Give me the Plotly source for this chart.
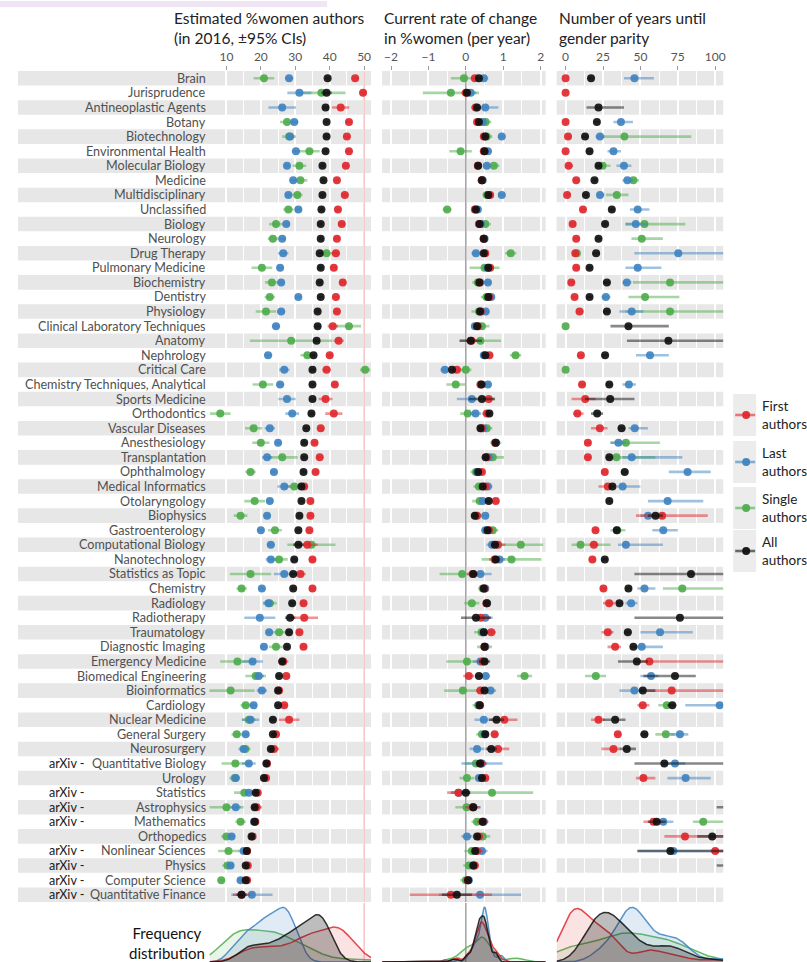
import numpy as np
import plotly.graph_objects as go

W, H = 807, 962
N = None

categories = [
    "Brain", "Jurisprudence", "Antineoplastic Agents", "Botany", "Biotechnology",
    "Environmental Health", "Molecular Biology", "Medicine", "Multidisciplinary", "Unclassified",
    "Biology", "Neurology", "Drug Therapy", "Pulmonary Medicine", "Biochemistry",
    "Dentistry", "Physiology", "Clinical Laboratory Techniques", "Anatomy", "Nephrology",
    "Critical Care", "Chemistry Techniques, Analytical", "Sports Medicine", "Orthodontics", "Vascular Diseases",
    "Anesthesiology", "Transplantation", "Ophthalmology", "Medical Informatics", "Otolaryngology",
    "Biophysics", "Gastroenterology", "Computational Biology", "Nanotechnology", "Statistics as Topic",
    "Chemistry", "Radiology", "Radiotherapy", "Traumatology", "Diagnostic Imaging",
    "Emergency Medicine", "Biomedical Engineering", "Bioinformatics", "Cardiology", "Nuclear Medicine",
    "General Surgery", "Neurosurgery", "Quantitative Biology", "Urology", "Statistics",
    "Astrophysics", "Mathematics", "Orthopedics", "Nonlinear Sciences", "Physics",
    "Computer Science", "Quantitative Finance",
]
arxiv_fields = ["Quantitative Biology", "Statistics", "Astrophysics", "Mathematics",
                "Nonlinear Sciences", "Physics", "Computer Science", "Quantitative Finance"]

# ---- Estimated % women authors (2016), with 95% CI half-widths ----
pct_first = [47.4, 49.7, 43.2, 45.6, 45.0, 45.6, 44.7, 42.1, 44.4, 42.4,
             43.5, 42.1, 41.8, 41.2, 43.8, 41.8, 42.1, 40.9, 42.6, 40.0,
             39.1, 41.5, 38.8, 41.2, 37.4, 35.6, 37.1, 35.9, 32.6, 34.4,
             34.4, 34.1, 33.5, 35.0, 31.5, 35.0, 32.4, 32.6, 31.2, 32.4,
             26.5, 27.4, 25.3, 26.8, 28.2, 24.4, 23.8, 21.8, 21.5, 19.1,
             18.8, 18.4, 17.6, 16.0, 16.2, 16.0, 14.4]
pct_first_err = [1.0, 1.0, 2.5, 1.0, 1.0, 1.0, 1.0, 0.8, 1.0, 0.8,
                 1.0, 0.8, 1.2, 1.0, 1.0, 1.0, 1.0, 1.5, 1.5, 1.0,
                 1.2, 1.0, 2.0, 2.5, 1.0, 0.8, 1.0, 0.8, 0.8, 0.8,
                 0.8, 0.8, 3.0, 1.0, 1.5, 1.0, 1.0, 4.0, 1.0, 1.0,
                 1.5, 1.0, 1.0, 1.0, 3.0, 1.0, 1.5, 1.0, 1.0, 1.0,
                 1.5, 1.0, 1.0, 1.0, 1.0, 1.0, 2.5]
pct_last = [28.2, 31.2, 26.2, 29.7, 28.5, 30.2, 27.6, 29.4, 28.0, 30.9,
            27.4, 26.2, 26.5, 25.6, 25.9, 30.9, 25.9, 24.4, N, 22.1,
            26.8, 25.6, 27.6, 29.1, 22.6, 25.0, 21.8, 23.8, 26.8, 22.6,
            21.8, 20.0, 22.9, 22.9, 26.8, 20.3, 22.2, 19.7, 22.4, 20.9,
            17.6, 19.4, 20.3, 17.9, 17.0, 15.6, 15.0, 16.5, 12.7, 16.5,
            12.7, 18.0, 11.5, 15.0, 11.2, 14.1, 17.4]
pct_last_err = [1.2, 3.5, 4.0, 1.2, 1.2, 1.2, 1.0, 1.0, 1.0, 1.0,
                1.0, 1.0, 1.5, 1.0, 1.0, 1.0, 1.2, 1.2, 0.0, 1.2,
                1.5, 1.2, 2.5, 2.0, 1.5, 1.0, 1.5, 1.0, 2.0, 1.0,
                1.0, 1.0, 1.2, 1.5, 3.0, 1.0, 1.5, 4.5, 1.0, 1.0,
                3.0, 1.5, 1.5, 1.0, 2.5, 1.0, 1.5, 2.0, 1.0, 1.0,
                1.5, 1.0, 1.0, 1.5, 1.0, 1.0, 6.0]
pct_single = [20.9, 37.6, N, 27.6, 28.2, 34.1, 31.2, 31.5, 30.6, 28.0,
              24.4, 23.5, 39.1, 20.3, 23.2, 22.6, 21.5, 45.6, 28.8, 33.5,
              50.3, 20.6, N, 8.2, 17.9, 20.0, 26.2, 17.0, 29.7, 18.2,
              14.1, 24.1, 34.7, 25.3, 17.0, 14.4, 22.6, N, 25.3, 24.4,
              13.2, 18.5, 11.2, 15.6, 16.5, 13.0, 15.5, 12.6, 12.4, 15.2,
              10.0, 14.1, 10.0, 10.6, 10.3, 8.5, N]
pct_single_err = [3.0, 7.0, 0.0, 2.0, 2.0, 3.0, 2.0, 2.0, 1.5, 1.5,
                  2.0, 1.5, 2.0, 3.0, 2.0, 1.5, 3.0, 3.5, 12.0, 2.0,
                  1.5, 3.0, 0.0, 3.0, 2.5, 2.5, 4.5, 1.5, 2.5, 3.0,
                  2.0, 2.0, 7.0, 2.5, 6.0, 1.5, 2.0, 0.0, 2.0, 2.0,
                  5.0, 3.0, 7.0, 1.5, 2.0, 1.5, 1.5, 4.0, 1.5, 3.0,
                  5.0, 1.5, 1.5, 3.0, 1.5, 1.0, 0.0]
pct_all = [39.4, 39.1, 38.8, 39.1, 39.1, 38.8, 37.9, 38.2, 37.9, 37.6,
           37.4, 37.4, 37.1, 37.4, 37.1, 37.4, 36.5, 36.5, 36.2, 35.3,
           35.0, 35.0, 35.0, 34.7, 33.2, 32.6, 32.6, 32.4, 31.8, 31.8,
           31.2, 30.9, 30.9, 29.7, 29.4, 29.4, 29.1, 28.5, 28.2, 27.6,
           26.2, 25.3, 25.0, 25.0, 23.5, 23.5, 22.9, 21.6, 20.9, 18.5,
           18.2, 18.2, 17.3, 15.9, 15.6, 15.6, 14.4]
pct_all_err = [0.6, 1.5, 1.0, 0.6, 0.6, 0.6, 0.6, 0.5, 0.6, 0.6,
               0.6, 0.5, 0.6, 0.6, 0.6, 0.6, 0.6, 0.8, 1.0, 0.6,
               0.8, 0.6, 1.0, 0.8, 0.6, 0.6, 0.6, 0.6, 0.6, 0.6,
               0.6, 0.6, 1.5, 0.8, 1.0, 0.6, 0.6, 1.5, 0.6, 0.6,
               0.8, 0.8, 0.8, 0.6, 1.0, 0.6, 0.8, 0.8, 0.6, 0.6,
               0.8, 0.6, 0.6, 0.8, 0.6, 0.6, 1.5]

# ---- Current rate of change in % women (per year) ----
rate_first = [0.24, 0.00, 0.26, 0.30, 0.48, 0.48, 0.32, 0.43, 0.65, 0.24,
              0.35, 0.48, 0.52, 0.65, 0.38, 0.62, 0.40, 0.33, 0.15, 0.63,
              -0.24, 0.39, 0.61, 0.56, 0.42, 0.78, 0.56, 0.43, 0.52, 0.80,
              0.30, 0.62, 0.86, 0.77, 0.18, 0.50, 0.55, 0.40, 0.68, 0.50,
              0.45, 0.08, 0.39, 0.38, 1.03, 0.77, 0.86, 0.40, 0.52, -0.20,
              0.18, 0.45, 0.35, 0.30, 0.24, 0.05, -0.40]
rate_first_err = [0.08, 0.12, 0.12, 0.08, 0.08, 0.08, 0.08, 0.06, 0.08, 0.08,
                  0.08, 0.06, 0.08, 0.10, 0.06, 0.10, 0.08, 0.10, 0.15, 0.10,
                  0.12, 0.10, 0.15, 0.12, 0.08, 0.08, 0.10, 0.06, 0.10, 0.10,
                  0.08, 0.08, 0.20, 0.15, 0.15, 0.06, 0.10, 0.25, 0.12, 0.10,
                  0.15, 0.15, 0.12, 0.08, 0.35, 0.10, 0.30, 0.15, 0.10, 0.30,
                  0.20, 0.15, 0.10, 0.15, 0.10, 0.10, 1.10]
rate_last = [0.48, 0.13, 0.52, 0.45, 0.96, 0.59, 0.56, 0.45, 0.96, 0.32,
             0.40, 0.50, 0.27, 0.58, 0.59, 0.68, 0.53, 0.24, N, 0.48,
             -0.56, 0.59, 0.16, 0.26, 0.47, 0.80, 0.62, 0.30, 0.59, 0.45,
             0.52, 0.52, 0.70, 0.90, 0.39, 0.52, 0.57, 0.52, 0.48, 0.52,
             0.39, 0.53, 0.66, 0.35, 0.48, 0.50, 0.30, 0.43, 0.35, -0.19,
             0.20, 0.48, 0.03, 0.43, 0.20, 0.08, 0.38]
rate_last_err = [0.12, 0.15, 0.35, 0.10, 0.10, 0.10, 0.10, 0.08, 0.10, 0.10,
                 0.10, 0.08, 0.12, 0.10, 0.10, 0.10, 0.10, 0.10, 0.00, 0.10,
                 0.12, 0.10, 0.40, 0.15, 0.10, 0.10, 0.10, 0.10, 0.12, 0.10,
                 0.10, 0.10, 0.15, 0.15, 0.30, 0.10, 0.10, 0.20, 0.12, 0.10,
                 0.20, 0.12, 0.15, 0.10, 0.25, 0.10, 0.20, 0.55, 0.10, 0.20,
                 0.20, 0.12, 0.15, 0.15, 0.10, 0.10, 1.10]
rate_single = [-0.05, -0.40, N, 0.53, 0.56, -0.14, 0.75, 0.43, 0.56, -0.50,
               0.52, 0.48, 1.20, 0.50, 0.32, 0.55, 0.35, 0.43, 0.39, 1.33,
               0.00, -0.27, N, 0.05, 0.56, 0.80, 0.72, 0.27, 0.35, 0.37,
               0.28, 0.72, 1.47, 1.22, -0.10, 0.45, 0.16, N, 0.42, 0.50,
               0.03, 1.57, -0.08, 0.33, N, 0.43, N, 0.27, 0.03, 0.70,
               0.02, 0.30, 0.45, 0.16, 0.08, 0.00, N]
rate_single_err = [0.35, 0.75, 0.00, 0.15, 0.15, 0.30, 0.15, 0.12, 0.12, 0.12,
                   0.15, 0.12, 0.15, 0.40, 0.15, 0.15, 0.20, 0.20, 0.55, 0.15,
                   0.15, 0.25, 0.00, 0.20, 0.15, 0.15, 0.30, 0.15, 0.15, 0.20,
                   0.15, 0.15, 0.60, 0.80, 0.60, 0.12, 0.20, 0.00, 0.20, 0.20,
                   0.55, 0.20, 0.50, 0.15, 0.00, 0.15, 0.00, 0.30, 0.20, 1.10,
                   0.30, 0.15, 0.20, 0.20, 0.15, 0.15, 0.00]
rate_all = [0.35, 0.03, 0.30, 0.35, 0.52, 0.50, 0.33, 0.43, 0.60, 0.27,
            0.37, 0.48, 0.48, 0.60, 0.36, 0.60, 0.38, 0.30, 0.13, 0.52,
            -0.37, 0.42, 0.43, 0.63, 0.39, 0.80, 0.53, 0.33, 0.45, 0.61,
            0.24, 0.58, 0.78, 0.80, 0.20, 0.48, 0.56, 0.27, 0.48, 0.50,
            0.50, 0.35, 0.50, 0.37, 0.82, 0.52, 0.68, 0.38, 0.43, 0.00,
            0.20, 0.45, 0.30, 0.25, 0.20, 0.06, -0.24]
rate_all_err = [0.05, 0.06, 0.06, 0.05, 0.05, 0.05, 0.05, 0.04, 0.05, 0.05,
                0.05, 0.04, 0.05, 0.05, 0.05, 0.05, 0.05, 0.06, 0.30, 0.06,
                0.06, 0.05, 0.35, 0.06, 0.05, 0.05, 0.05, 0.05, 0.05, 0.05,
                0.05, 0.05, 0.10, 0.08, 0.10, 0.05, 0.05, 0.40, 0.06, 0.05,
                0.15, 0.10, 0.08, 0.05, 0.20, 0.05, 0.15, 0.10, 0.06, 0.12,
                0.10, 0.06, 0.06, 0.08, 0.05, 0.05, 0.40]

# ---- Years until gender parity (value, lower and upper CI bounds) ----
years_first = [0, 0, N, 0, 1.6, 0, 2, 7.1, 1, 11.6,
               4.7, 7.1, 6.5, 7.1, 3.8, 6, 9.3, N, N, 10.2,
               N, 11, 13.1, 7.9, 22.9, 14.9, 14.9, 26.2, 28.2, N,
               64.5, 20, 18.9, 17.9, N, 25.3, 29.1, N, 28.2, 33.1,
               56, N, 70.9, 51.6, 22, 34.9, 32, N, 52, N,
               N, 58.7, 79.8, 100, N, N, N]
years_first_lo = [0, 0, N, 0, 0, 0, 0, 5, 0, 10,
                  3, 5, 5, 5, 2, 4, 7, N, N, 8,
                  N, 9, 4, 5, 17, 13, 13, 24, 22, N,
                  47, 18, 16, 16, N, 23, 25, N, 24, 28,
                  47, N, 55, 48, 17, 33, 24, N, 47, N,
                  N, 52, 66, 97, N, N, N]
years_first_hi = [0, 0, N, 0, 4, 0, 5, 9, 3, 14,
                  7, 9, 8, 9, 6, 8, 12, N, N, 12,
                  N, 13, 20, 12, 28, 17, 17, 28, 32, N,
                  95, 22, 22, 20, N, 27, 33, N, 32, 37,
                  110, N, 110, 56, 26, 37, 36, N, 60, N,
                  N, 65, 110, 110, N, N, N]
years_last = [46, N, N, 37, 23, 32, 39, 41.3, 23, 48.2,
              46.9, N, 75.3, 48.2, 40.9, 26.9, 44.2, N, N, 56.4,
              N, 42.3, N, N, 46.2, 35.3, 44.2, 81.5, 38.1, 68.2,
              55.1, 65.3, 40.3, N, N, 52.7, 43.8, N, 63.1, 50.9,
              N, 57.1, 46, 103, N, 76.4, N, 73.1, 80.2, N,
              N, 65.3, N, 72, N, N, N]
years_last_lo = [39, N, N, 32, 20, 28, 34, 38, 21, 43,
                 40, N, 46, 40, 38, 24, 36, N, N, 47,
                 N, 38, N, N, 42, 30, 38, 69, 34, 55,
                 50, 58, 35, N, N, 48, 40, N, 50, 48,
                 N, 50, 36, 80, N, 70, N, 65, 68, N,
                 N, 62, N, 48, N, N, N]
years_last_hi = [59, N, N, 45, 26, 37, 44, 45, 26, 56,
                 55, N, 110, 64, 44, 30, 52, N, N, 69,
                 N, 47, N, N, 55, 40, 78, 97, 50, 92,
                 58, 75, 65, N, N, 60, 48, N, 85, 65,
                 N, 62, 55, 110, N, 82, N, 80, 97, N,
                 N, 72, N, 110, N, N, N]
years_single = [N, N, N, N, 39.3, N, 24.7, 45.3, 34.2, N,
                52.7, 50.9, 7.5, N, 69.8, 53.1, 69.8, 0, N, N,
                0, N, N, N, N, 40.3, 34, N, N, N,
                N, 34.5, 10, N, N, 78, N, N, N, N,
                N, 20.2, N, 67.6, N, 67, N, N, N, N,
                N, 92, N, N, N, N, N]
years_single_lo = [N, N, N, N, 23, N, 20, 42, 27, N,
                   40, 44, 5, N, 45, 42, 40, 0, N, N,
                   0, N, N, N, N, 30, 31, N, N, N,
                   N, 30, 4, N, N, 65, N, N, N, N,
                   N, 13, N, 62, N, 60, N, N, N, N,
                   N, 85, N, N, N, N, N]
years_single_hi = [N, N, N, N, 84, N, 30, 49, 42, N,
                   80, 65, 10, N, 110, 76, 110, 0, N, N,
                   0, N, N, N, N, 63, 60, N, N, N,
                   N, 40, 30, N, N, 110, N, N, N, N,
                   N, 27, N, 72, N, 73, N, N, N, N,
                   N, 110, N, N, N, N, N]
years_all = [17, N, 22, 20.9, 13, 16, 22, 19.3, 13.6, 30.9,
             26.4, 22, 20.4, 16, 27.6, 16, 27.6, 42, 68.7, 26.4,
             N, 29.2, 29.8, 21.1, 37.4, N, 29.2, 39.5, 31.3, 29.2,
             60.1, 34.2, N, 26.2, 83.8, 42, 36, 76.4, 41.6, 45.3,
             47.6, 73.1, 51.6, 71.3, 33.1, 52.7, 40.9, 66, N, N,
             130, 60.9, 98, 70, 130, N, N]
years_all_lo = [15, N, 14, 19, 11, 14, 20, 18, 12, 29,
                24, 20, 18, 14, 25, 14, 25, 30, 41, 24,
                N, 27, 13, 17, 35, N, 27, 37, 29, 27,
                55, 32, N, 24, 46, 40, 34, 46, 39, 43,
                35, 52, 49, 68, 25, 50, 36, 46, N, N,
                101, 55, 88, 48, 101, N, N]
years_all_hi = [19, N, 39, 23, 15, 18, 24, 21, 15, 33,
                28, 24, 23, 18, 30, 18, 30, 69, 110, 28,
                N, 31, 46, 25, 40, N, 31, 42, 33, 31,
                65, 36, N, 28, 110, 44, 38, 110, 44, 48,
                55, 87, 60, 74, 40, 55, 47, 110, N, N,
                130, 67, 110, 110, 130, N, N]

series_names = ["Single authors", "Last authors", "First authors", "All authors"]
series_colors = {"First authors": (224, 40, 46), "Last authors": (63, 131, 192),
                 "Single authors": (79, 173, 76), "All authors": (17, 17, 17)}
legend_order = ["First authors", "Last authors", "Single authors", "All authors"]

PARITY_PCT = 50
TEXT_FONT = "Lato"


def px(x):
    return x / W


def py(y):
    return 1 - y / H


def rgba(c, a):
    return f"rgba({c[0]},{c[1]},{c[2]},{a})"


# Panel geometry in pixels
ROW_TOP, ROW_BOT = 71, 902
DENS_TOP = 903
panels = [
    dict(x0=210, x1=372, rng=[10 - 17 / 3.45, 10 + 145 / 3.45], ticks=[10, 20, 30, 40, 50],
         minor=[15, 25, 35, 45]),
    dict(x0=383, x1=547, rng=[-84 / 37.5, 80 / 37.5], ticks=[-2, -1, 0, 1, 2],
         minor=[-1.5, -0.5, 0.5, 1.5]),
    dict(x0=558, x1=725, rng=[-6, 168 / 1.5 - 6.67], ticks=[0, 25, 50, 75, 100],
         minor=[12.5, 37.5, 62.5, 87.5]),
]

sym_data = [
    {"First authors": (pct_first, pct_first_err), "Last authors": (pct_last, pct_last_err),
     "Single authors": (pct_single, pct_single_err), "All authors": (pct_all, pct_all_err)},
    {"First authors": (rate_first, rate_first_err), "Last authors": (rate_last, rate_last_err),
     "Single authors": (rate_single, rate_single_err), "All authors": (rate_all, rate_all_err)},
]
year_data = {"First authors": (years_first, years_first_lo, years_first_hi),
             "Last authors": (years_last, years_last_lo, years_last_hi),
             "Single authors": (years_single, years_single_lo, years_single_hi),
             "All authors": (years_all, years_all_lo, years_all_hi)}

rows = list(range(len(categories)))
fig = go.Figure()

# reference lines (parity at 50%, zero change) behind the dots
fig.add_trace(go.Scatter(x=[PARITY_PCT, PARITY_PCT], y=[-0.5, len(categories) - 0.5], mode="lines",
                         line=dict(color="#f2a6aa", width=1), xaxis="x", yaxis="y",
                         hoverinfo="skip", showlegend=False))
fig.add_trace(go.Scatter(x=[0, 0], y=[-0.5, len(categories) - 0.5], mode="lines",
                         line=dict(color="#8a8a8a", width=1.2), xaxis="x2", yaxis="y",
                         hoverinfo="skip", showlegend=False))

axis_names = ["x", "x2", "x3"]
for p in range(2):
    for name in series_names:
        vals, errs = sym_data[p][name]
        c = series_colors[name]
        fig.add_trace(go.Scatter(
            x=vals, y=rows, mode="markers", xaxis=axis_names[p], yaxis="y",
            marker=dict(size=8, color=rgba(c, 0.92)),
            error_x=dict(type="data", array=errs, symmetric=True, color=rgba(c, 0.5),
                         thickness=2.6, width=0),
            name=name, showlegend=False, hoverinfo="skip"))

for name in series_names:
    vals, lo, hi = year_data[name]
    plus = [(h - v) if v is not None else 0 for v, h in zip(vals, hi)]
    minus = [(v - l) if v is not None else 0 for v, l in zip(vals, lo)]
    c = series_colors[name]
    fig.add_trace(go.Scatter(
        x=vals, y=rows, mode="markers", xaxis="x3", yaxis="y",
        marker=dict(size=8, color=rgba(c, 0.92)),
        error_x=dict(type="data", symmetric=False, array=plus, arrayminus=minus,
                     color=rgba(c, 0.5), thickness=2.6, width=0),
        name=name, showlegend=False, hoverinfo="skip"))


# ---- frequency distributions (Gaussian KDE, nrd0 bandwidth) ----
def kde(values, grid, vmax=None):
    v = np.array([x for x in values if x is not None and (vmax is None or x <= vmax)], float)
    n = len(v)
    sd = v.std(ddof=1)
    q75, q25 = np.percentile(v, [75, 25])
    bw = 0.9 * min(sd, (q75 - q25) / 1.34) * n ** -0.2
    z = (grid[:, None] - v[None, :]) / bw
    return np.exp(-0.5 * z * z).sum(axis=1) / (n * bw * np.sqrt(2 * np.pi))


dens_sources = [
    {k: sym_data[0][k][0] for k in series_names},
    {k: sym_data[1][k][0] for k in series_names},
    {k: year_data[k][0] for k in series_names},
]
dens_x = ["x4", "x5", "x6"]
dens_y = ["y2", "y3", "y4"]

# reference lines carried into the density strip
fig.add_trace(go.Scatter(x=[PARITY_PCT, PARITY_PCT], y=[0, 1.1], mode="lines",
                         line=dict(color="#f2a6aa", width=1), xaxis="x4", yaxis="y2",
                         hoverinfo="skip", showlegend=False))
fig.add_trace(go.Scatter(x=[0, 0], y=[0, 1.1], mode="lines",
                         line=dict(color="#8a8a8a", width=1.2), xaxis="x5", yaxis="y3",
                         hoverinfo="skip", showlegend=False))

fill_alpha = {"First authors": 0.13, "Last authors": 0.16, "Single authors": 0.12, "All authors": 0.28}
for p in range(3):
    rng = panels[p]["rng"]
    grid = np.linspace(rng[0], rng[1], 300)
    vmax = 105 if p == 2 else None
    curves = {k: kde(dens_sources[p][k], grid, vmax) for k in series_names}
    top = max(c.max() for c in curves.values())
    for name in series_names:
        c = series_colors[name]
        fig.add_trace(go.Scatter(
            x=grid, y=curves[name] / top, mode="lines", fill="tozeroy",
            fillcolor=rgba(c, fill_alpha[name]), line=dict(color=rgba(c, 0.85), width=1.5),
            xaxis=dens_x[p], yaxis=dens_y[p], hoverinfo="skip", showlegend=False))

# ---- axes ----
layout_axes = {}
for i, p in enumerate(panels):
    key = "xaxis" if i == 0 else f"xaxis{i + 1}"
    layout_axes[key] = dict(
        domain=[px(p["x0"]), px(p["x1"])], range=p["rng"], anchor="y", side="top",
        tickvals=p["ticks"], ticktext=[("\u2212" + str(abs(t))) if t < 0 else str(t) for t in p["ticks"]],
        ticks="outside", ticklen=4, tickwidth=1, tickcolor="#9a9a9a",
        tickfont=dict(family=TEXT_FONT, size=12, color="#555555"),
        showgrid=True, gridcolor="white", gridwidth=1.6,
        minor=dict(tickvals=p["minor"], showgrid=True, gridcolor="white", gridwidth=0.8, ticks=""),
        zeroline=False, showline=False, fixedrange=True)
    dkey = f"xaxis{i + 4}"
    layout_axes[dkey] = dict(domain=[px(p["x0"]), px(p["x1"])], range=p["rng"],
                             anchor=f"y{i + 2}", visible=False, fixedrange=True)
    ykey = f"yaxis{i + 2}"
    layout_axes[ykey] = dict(domain=[0, py(DENS_TOP)], range=[0, 1.08], anchor=f"x{i + 4}",
                             visible=False, fixedrange=True)

layout_axes["yaxis"] = dict(domain=[py(ROW_BOT), py(ROW_TOP)],
                            range=[len(categories) - 0.5, -0.5], anchor="x",
                            visible=False, fixedrange=True)

# ---- shading bands behind alternate rows ----
shapes = [dict(type="rect", xref="paper", yref="paper", x0=0, x1=px(328), y0=py(7), y1=py(1),
               fillcolor="#efe5f5", line=dict(width=0), layer="below")]
for i in range(0, len(categories), 2):
    for x0, x1 in [(18, 372), (383, 547), (558, 725)]:
        shapes.append(dict(type="rect", xref="paper", yref="y", x0=px(x0), x1=px(x1),
                           y0=i - 0.5, y1=i + 0.5, fillcolor="#e7e7e7",
                           line=dict(width=0), layer="below"))

annotations = []
for i, cat in enumerate(categories):
    annotations.append(dict(x=px(209), y=i, xref="paper", yref="y", text=cat, showarrow=False,
                            xanchor="right", yanchor="middle",
                            font=dict(family=TEXT_FONT, size=12.6, color="#505050")))
    if cat in arxiv_fields:
        annotations.append(dict(x=px(47), y=i, xref="paper", yref="y", text="arXiv -",
                                showarrow=False, xanchor="left", yanchor="middle",
                                font=dict(family=TEXT_FONT, size=12.6, color="#1a1a1a")))

headers = [(172, "Estimated %women authors", "(in 2016, \u00b195% CIs)"),
           (383, "Current rate of change", "in %women (per year)"),
           (558, "Number of years until", "gender parity")]
for x, l1, l2 in headers:
    annotations.append(dict(x=px(x), y=py(28.5), xref="paper", yref="paper",
                            text=f"{l1}<br>{l2}", showarrow=False, align="left",
                            xanchor="left", yanchor="middle",
                            font=dict(family=TEXT_FONT, size=15.5, color="#222222")))

# legend keys drawn at the right margin
legend_centres = [415, 462, 508, 551]
for name, cy in zip(legend_order, legend_centres):
    c = series_colors[name]
    shapes.append(dict(type="rect", xref="paper", yref="paper", x0=px(735), x1=px(758),
                       y0=py(cy + 21), y1=py(cy - 21), fillcolor="#ececec",
                       line=dict(width=0), layer="below"))
    shapes.append(dict(type="line", xref="paper", yref="paper", x0=px(737), x1=px(757),
                       y0=py(cy), y1=py(cy), line=dict(color=rgba(c, 0.6), width=2.6)))
    shapes.append(dict(type="circle", xref="paper", yref="paper", x0=px(744), x1=px(752),
                       y0=py(cy + 4), y1=py(cy - 4), fillcolor=rgba(c, 0.95),
                       line=dict(width=0)))
    first, second = name.split(" ")
    annotations.append(dict(x=px(762), y=py(cy), xref="paper", yref="paper",
                            text=f"{first}<br>{second}", showarrow=False, align="left",
                            xanchor="left", yanchor="middle",
                            font=dict(family=TEXT_FONT, size=13.5, color="#222222")))

annotations.append(dict(x=px(167), y=py(943), xref="paper", yref="paper",
                        text="Frequency<br>distribution", showarrow=False, align="center",
                        xanchor="center", yanchor="middle",
                        font=dict(family=TEXT_FONT, size=15, color="#111111")))

fig.update_layout(
    width=W, height=H, margin=dict(l=0, r=0, t=0, b=0),
    paper_bgcolor="white", plot_bgcolor="rgba(0,0,0,0)",
    shapes=shapes, annotations=annotations, showlegend=False,
    font=dict(family=TEXT_FONT),
    **layout_axes,
)

fig.write_html("out.html")
